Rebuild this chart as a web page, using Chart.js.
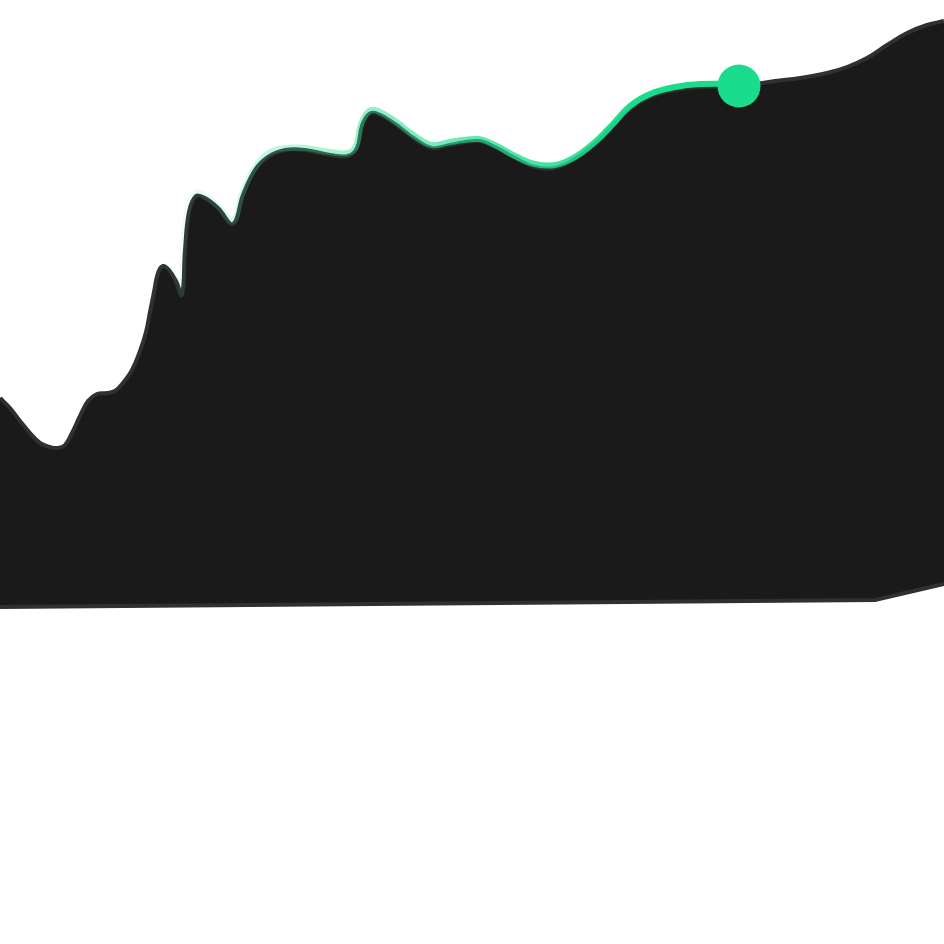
<!DOCTYPE html>
<html>
<head>
<meta charset="utf-8">
<script src="https://cdn.jsdelivr.net/npm/chart.js@4/dist/chart.umd.min.js"></script>
<style>
html, body { margin: 0; padding: 0; background: #fff; overflow: hidden; }
canvas { display: block; }
</style>
</head>
<body>
<canvas id="chart" width="944" height="944"></canvas>
<script>
const upperX = [0,10,20,30,40,50,58,65,72,80,88,97,107,115,123,132,140,146,150,154,158,163,169,176,182,185,189,196,205,218,233,243,255,268,285,305,330,348,357,362,369,378,395,415,432,450,478,495,515,535,555,575,595,612,630,650,675,700,739,775,800,827,847,867,887,907,927,944];
const upperY = [546,536,523,511,501,497,496,499,511,528,543,550,551,553,561,574,593,612,632,652,671,678,674,663,649,694,732,748,746,736,720,749,774,787,794,794,789,788,796,818,830,830,820,805,796,799,803,797,786,777,776,785,800,817,835,847,854,857,858,863,866,871,877,886,899,911,919,923];

const lowerX = [0,875,944];
const lowerY = [337,344,360];

const greenX = [150,155,160,164,170,176,181,183,187,195,205,218,233,242,254,267,285,305,330,348,356,361,369,378,395,415,432,450,478,495,515,535,555,575,595,612,630,650,675,700,739];
const greenY = [634,662,675,680,676,665,650,693,733,751,748,738,723,750,775,790,796,796,792,791,798,820,833,833,823,808,799,802,805,799,788,780,779,787,802,819,838,850,857,860,860];

const dotX = [739];
const dotY = [858];

function pairs(xs, ys) {
    return xs.map((x, i) => ({ x: x, y: ys[i] }));
}

function greenGradient(context) {
    const chart = context.chart;
    if (!chart.chartArea) return "#1bdb8c";
    const x = chart.scales.x;
    const g = chart.ctx.createLinearGradient(x.getPixelForValue(150), 0, x.getPixelForValue(640), 0);
    g.addColorStop(0, "rgba(27,219,140,0)");
    g.addColorStop(1, "rgba(27,219,140,1)");
    return g;
}

new Chart("chart", {
    type: "line",
    data: {
        datasets: [{
            data: pairs(dotX, dotY),
            showLine: false,
            pointRadius: 21.5,
            pointBackgroundColor: "#1bdb8c",
            pointBorderWidth: 0,
            order: 0
        }, {
            data: pairs(greenX, greenY),
            borderColor: greenGradient,
            borderWidth: 6,
            tension: 0.4,
            pointRadius: 0,
            fill: false,
            order: 1
        }, {
            data: pairs(upperX, upperY),
            borderColor: "#303030",
            backgroundColor: "#1a1a1a",
            borderWidth: 4,
            tension: 0.4,
            pointRadius: 0,
            fill: "+1",
            order: 3
        }, {
            data: pairs(lowerX, lowerY),
            borderColor: "#303030",
            borderWidth: 4,
            tension: 0,
            pointRadius: 0,
            fill: false,
            order: 2
        }]
    },
    options: {
        responsive: false,
        animation: false,
        layout: { padding: 0, autoPadding: false },
        plugins: {
            legend: { display: false },
            tooltip: { enabled: false }
        },
        scales: {
            x: { type: "linear", display: false, min: 0, max: 944 },
            y: { type: "linear", display: false, min: 0, max: 944 }
        }
    }
});
</script>
</body>
</html>
